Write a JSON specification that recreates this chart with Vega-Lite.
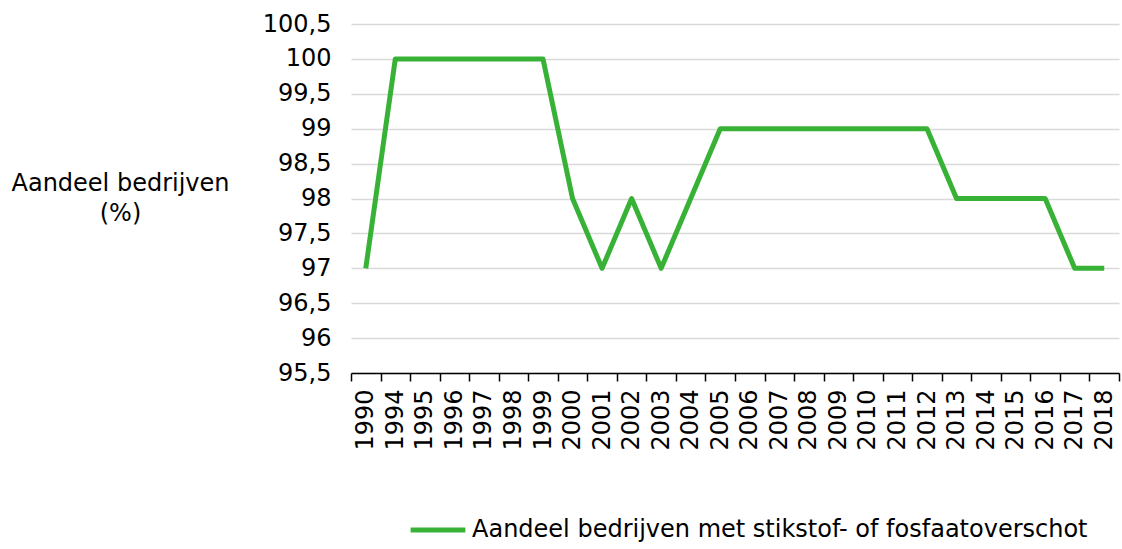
{
  "$schema": "https://vega.github.io/schema/vega-lite/v6.json",
  "width": 768,
  "height": 349,
  "autosize": {"type": "none"},
  "padding": {"left": 351, "top": 24, "right": 3, "bottom": 176},
  "background": "white",
  "config": {
    "view": {"stroke": null},
    "font": "DejaVu Sans",
    "axis": {"labelFont": "DejaVu Sans", "titleFont": "DejaVu Sans"},
    "legend": {"labelFont": "DejaVu Sans"}
  },
  "data": {
    "values": [
      {"jaar": "1990", "waarde": 97, "reeks": "Aandeel bedrijven met stikstof- of fosfaatoverschot"},
      {"jaar": "1994", "waarde": 100, "reeks": "Aandeel bedrijven met stikstof- of fosfaatoverschot"},
      {"jaar": "1995", "waarde": 100, "reeks": "Aandeel bedrijven met stikstof- of fosfaatoverschot"},
      {"jaar": "1996", "waarde": 100, "reeks": "Aandeel bedrijven met stikstof- of fosfaatoverschot"},
      {"jaar": "1997", "waarde": 100, "reeks": "Aandeel bedrijven met stikstof- of fosfaatoverschot"},
      {"jaar": "1998", "waarde": 100, "reeks": "Aandeel bedrijven met stikstof- of fosfaatoverschot"},
      {"jaar": "1999", "waarde": 100, "reeks": "Aandeel bedrijven met stikstof- of fosfaatoverschot"},
      {"jaar": "2000", "waarde": 98, "reeks": "Aandeel bedrijven met stikstof- of fosfaatoverschot"},
      {"jaar": "2001", "waarde": 97, "reeks": "Aandeel bedrijven met stikstof- of fosfaatoverschot"},
      {"jaar": "2002", "waarde": 98, "reeks": "Aandeel bedrijven met stikstof- of fosfaatoverschot"},
      {"jaar": "2003", "waarde": 97, "reeks": "Aandeel bedrijven met stikstof- of fosfaatoverschot"},
      {"jaar": "2004", "waarde": 98, "reeks": "Aandeel bedrijven met stikstof- of fosfaatoverschot"},
      {"jaar": "2005", "waarde": 99, "reeks": "Aandeel bedrijven met stikstof- of fosfaatoverschot"},
      {"jaar": "2006", "waarde": 99, "reeks": "Aandeel bedrijven met stikstof- of fosfaatoverschot"},
      {"jaar": "2007", "waarde": 99, "reeks": "Aandeel bedrijven met stikstof- of fosfaatoverschot"},
      {"jaar": "2008", "waarde": 99, "reeks": "Aandeel bedrijven met stikstof- of fosfaatoverschot"},
      {"jaar": "2009", "waarde": 99, "reeks": "Aandeel bedrijven met stikstof- of fosfaatoverschot"},
      {"jaar": "2010", "waarde": 99, "reeks": "Aandeel bedrijven met stikstof- of fosfaatoverschot"},
      {"jaar": "2011", "waarde": 99, "reeks": "Aandeel bedrijven met stikstof- of fosfaatoverschot"},
      {"jaar": "2012", "waarde": 99, "reeks": "Aandeel bedrijven met stikstof- of fosfaatoverschot"},
      {"jaar": "2013", "waarde": 98, "reeks": "Aandeel bedrijven met stikstof- of fosfaatoverschot"},
      {"jaar": "2014", "waarde": 98, "reeks": "Aandeel bedrijven met stikstof- of fosfaatoverschot"},
      {"jaar": "2015", "waarde": 98, "reeks": "Aandeel bedrijven met stikstof- of fosfaatoverschot"},
      {"jaar": "2016", "waarde": 98, "reeks": "Aandeel bedrijven met stikstof- of fosfaatoverschot"},
      {"jaar": "2017", "waarde": 97, "reeks": "Aandeel bedrijven met stikstof- of fosfaatoverschot"},
      {"jaar": "2018", "waarde": 97, "reeks": "Aandeel bedrijven met stikstof- of fosfaatoverschot"}
    ]
  },
  "mark": {"type": "line", "strokeWidth": 5, "strokeJoin": "round", "strokeCap": "butt"},
  "encoding": {
    "x": {
      "field": "jaar",
      "type": "ordinal",
      "sort": null,
      "scale": {"type": "band", "paddingInner": 0, "paddingOuter": 0},
      "axis": {
        "title": null,
        "labelAngle": 270,
        "labelAlign": "right",
        "labelBaseline": "middle",
        "labelFontSize": 24,
        "labelColor": "#000000",
        "labelPadding": 8,
        "tickBand": "extent",
        "tickSize": 8,
        "tickColor": "#000000",
        "tickWidth": 1.5,
        "domainColor": "#000000",
        "domainWidth": 1.5,
        "grid": false
      }
    },
    "y": {
      "field": "waarde",
      "type": "quantitative",
      "scale": {"domain": [95.5, 100.5], "nice": false, "zero": false},
      "axis": {
        "values": [95.5, 96, 96.5, 97, 97.5, 98, 98.5, 99, 99.5, 100, 100.5],
        "labelExpr": "replace(format(datum.value, '~f'), '.', ',')",
        "labelFontSize": 24,
        "labelColor": "#000000",
        "labelPadding": 20,
        "domain": false,
        "ticks": false,
        "grid": true,
        "gridColor": "#d9d9d9",
        "gridWidth": 1.5,
        "title": ["Aandeel bedrijven", "(%)"],
        "titleAngle": 0,
        "titleAlign": "center",
        "titleBaseline": "middle",
        "titleX": -231,
        "titleY": 159,
        "titleFontSize": 24,
        "titleFontWeight": "normal",
        "titleColor": "#000000",
        "titleLineHeight": 30
      }
    },
    "color": {
      "field": "reeks",
      "type": "nominal",
      "scale": {"range": ["#38b236"]},
      "legend": {
        "title": null,
        "orient": "none",
        "legendX": 57,
        "legendY": 476,
        "symbolType": "stroke",
        "symbolSize": 3000,
        "symbolStrokeWidth": 5,
        "labelFontSize": 24,
        "labelColor": "#000000",
        "labelOffset": 4,
        "labelLimit": 800
      }
    }
  }
}
